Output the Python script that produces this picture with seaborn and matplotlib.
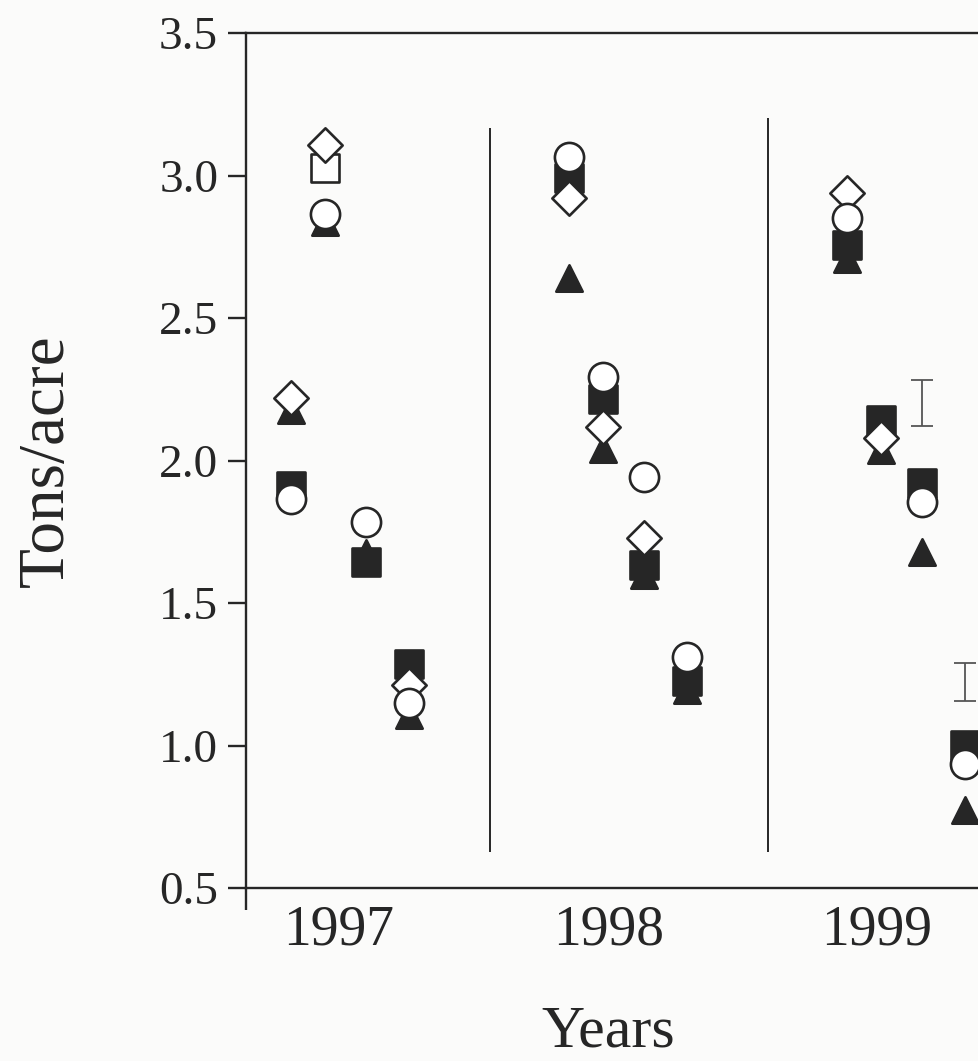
import numpy as np
import pandas as pd
import matplotlib
matplotlib.use("Agg")
import matplotlib.pyplot as plt
import seaborn as sns

# ---- data -------------------------------------------------------------
years = ["1997", "1998", "1999"]
cuts = [1, 2, 3, 4]

nan = np.nan
# yield (tons/acre) by year, cuts 1-4 within each year
circle_vals = [1.865, 2.865, 1.784, 1.149,
               3.065, 2.293, 1.942, 1.311,
               2.851, nan, 1.854, 0.935]
square_vals = [1.911, 3.026, 1.644, 1.286,
               2.990, 2.215, 1.633, 1.225,
               2.756, 2.142, 1.921, 1.002]
diamond_vals = [2.219, 3.107, nan, 1.212,
                2.921, 2.118, 1.728, nan,
                2.939, 2.079, nan, nan]
triangle_vals = [2.177, 2.837, 1.675, 1.107,
                 2.642, 2.040, 1.600, 1.195,
                 2.707, 2.037, 1.679, 0.774]
# the one square that is printed hollow
hollow_square = [("1997", 2)]

# LSD bars for 1999 (centre, half length)
lsd_year = "1999"
lsd_cuts = [3, 4]
lsd_centre = [2.202, 1.222]
lsd_half = [0.081, 0.067]

y_ticks = [0.5, 1.0, 1.5, 2.0, 2.5, 3.0, 3.5]

# ---- layout -----------------------------------------------------------
cut_offset = {1: 0.283, 2: 0.408, 3: 0.553, 4: 0.710}
label_pos = [0.457, 1.428, 2.392]
ink = "#262626"
paper = "#fbfbfa"


def frame(values, name):
    rows = []
    k = 0
    for yi, yr in enumerate(years):
        for c in cuts:
            rows.append({"year": yr, "cut": c, "series": name,
                         "x": yi + cut_offset[c], "value": values[k]})
            k += 1
    return pd.DataFrame(rows).dropna(subset=["value"])


tri = frame(triangle_vals, "triangle")
sq = frame(square_vals, "square")
dia = frame(diamond_vals, "diamond")
cir = frame(circle_vals, "circle")

is_hollow = sq.apply(lambda r: (r["year"], r["cut"]) in hollow_square, axis=1)
sq_filled = sq[~is_hollow]
sq_hollow = sq[is_hollow]

sns.set_theme(style="white")
plt.rcParams["font.family"] = ["Liberation Serif", "DejaVu Serif"]

fig = plt.figure(figsize=(9.79, 10.61), dpi=100, facecolor=paper)
ax = fig.add_axes([246 / 979, 173 / 1061, 800 / 979, 855 / 1061])
ax.set_facecolor(paper)

lw = 1.7
mlw = 1.9
common = dict(x="x", y="value", ax=ax, legend=False, linewidth=mlw,
              edgecolor=ink, zorder=3)
sns.scatterplot(data=tri, marker="^", s=19 ** 2, color=ink, **common)
sns.scatterplot(data=sq_filled, marker="s", s=20 ** 2, color=ink, **common)
sns.scatterplot(data=sq_hollow, marker="s", s=20 ** 2, color="white", **common)
sns.scatterplot(data=dia, marker="D", s=17.5 ** 2, color="white", **common)
sns.scatterplot(data=cir, marker="o", s=21 ** 2, color="white", **common)

# LSD bars
yi = years.index(lsd_year)
ax.errorbar([yi + cut_offset[c] for c in lsd_cuts], lsd_centre, yerr=lsd_half,
            fmt="none", ecolor="#555555", elinewidth=1.3, capsize=8,
            capthick=1.3, zorder=2)

# year separators
ax.vlines([1.0], 0.626, 3.167, color=ink, linewidth=1.4, zorder=1)
ax.vlines([2.0], 0.626, 3.202, color=ink, linewidth=1.4, zorder=1)

ax.set_xlim(0.1223, 3.0)
ax.set_ylim(0.5, 3.5)

ax.set_yticks(y_ticks)
ax.set_yticklabels([f"{v:.1f}" for v in y_ticks])
ax.set_xticks(label_pos)
ax.set_xticklabels(years)
ax.set_xticks([0.1223], minor=True)

ax.tick_params(axis="y", direction="out", length=13, width=lw, color=ink,
               labelsize=34, labelcolor=ink, pad=7, left=True)
ax.tick_params(axis="x", which="major", length=0, labelsize=40,
               labelcolor=ink, pad=12)
ax.tick_params(axis="x", which="minor", direction="out", length=16,
               width=lw, color=ink, bottom=True)

for side in ["left", "bottom", "top"]:
    ax.spines[side].set_visible(True)
    ax.spines[side].set_color(ink)
    ax.spines[side].set_linewidth(lw)
ax.spines["right"].set_visible(False)

ax.set_xlabel("Years", fontsize=43, color=ink)
ax.xaxis.set_label_coords(0.4525, -0.137)
ax.set_ylabel("Tons/acre", fontsize=47, color=ink)
ax.yaxis.set_label_coords(-0.211, 0.5)

fig.savefig("out.png", dpi=100, facecolor=paper)
